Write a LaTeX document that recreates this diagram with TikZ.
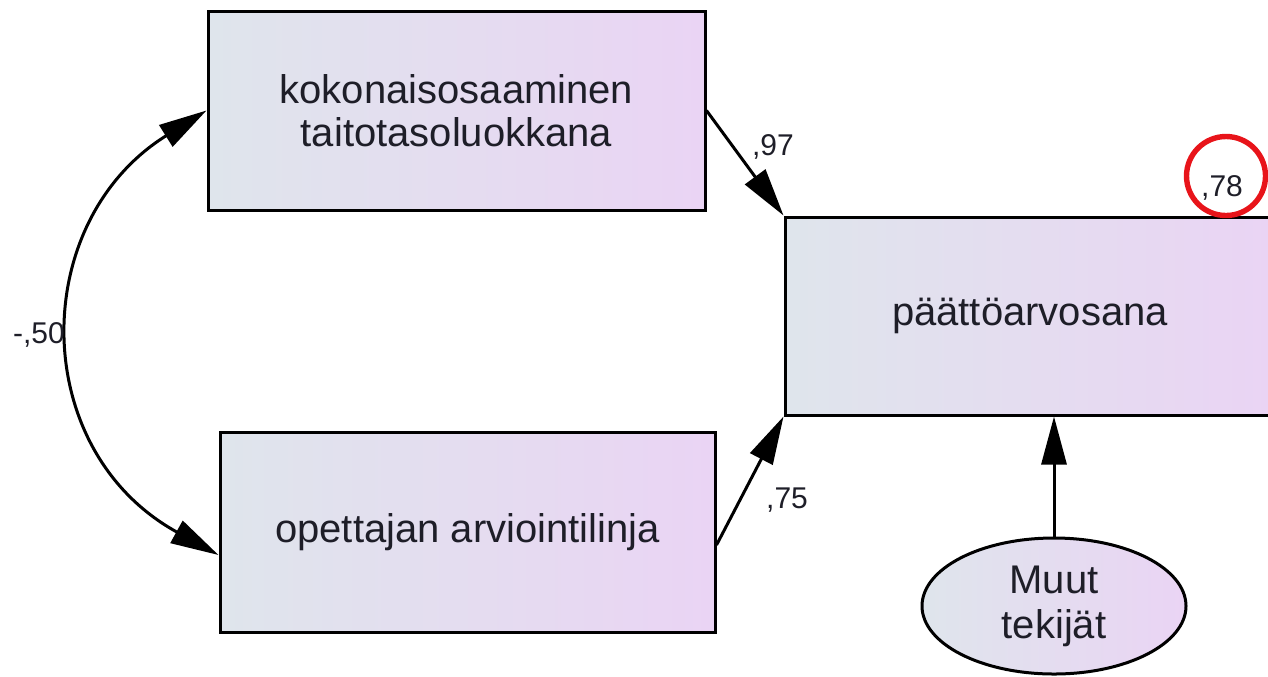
\documentclass[tikz,border=0pt]{standalone}
\usepackage{fontspec}
\setmainfont{Liberation Sans}
\usetikzlibrary{arrows.meta,shapes.geometric}
\definecolor{shL}{HTML}{DFE5EC}
\definecolor{shR}{HTML}{EAD4F4}
\definecolor{circred}{HTML}{E8141A}
\definecolor{txt}{HTML}{1E1E28}
\tikzset{
  varbox/.style={draw=black, line width=1.5pt, left color=shL, right color=shR,
    inner sep=0pt, align=center, text=txt, font=\fontsize{20pt}{21.5pt}\selectfont},
  errell/.style={ellipse, draw=black, line width=1.5pt, left color=shL, right color=shR,
    inner sep=0pt, minimum width=132pt, minimum height=68pt, align=center, text=txt,
    font=\fontsize{20pt}{22.5pt}\selectfont},
  tip/.tip={Triangle[length=24pt,width=12.5pt]},
  conn/.style={line width=1.5pt, -tip},
  dconn/.style={line width=1.5pt, tip-tip},
  coef/.style={font=\fontsize{15pt}{15pt}\selectfont, inner sep=0pt, text=txt},
  mark circle/.style={circle, draw=circred, line width=2.7pt, minimum size=39.5pt, inner sep=0pt}
}
\begin{document}
\begin{tikzpicture}[x=0.5pt,y=-0.5pt]
\useasboundingbox (0,0) rectangle (1268,676);
\clip (0,0) rectangle (1268,676);
\node[varbox, minimum width=248.5pt, minimum height=99.5pt] (b1) at (456.5,110.5)
  {kokonaisosaaminen\\taitotasoluokkana};
\node[varbox, minimum width=247.5pt, minimum height=100pt] (b2) at (467.5,532)
  {opettajan arviointilinja};
\node[varbox, minimum width=245pt, minimum height=99pt] (b3) at (1030,316)
  {päättöarvosana};
\node[errell] (e) at (1054,606) {Muut\\tekijät};

\draw[conn] (b1.east) -- (b3.north west);
\draw[conn] ([yshift=-6.5pt]b2.east) -- (b3.south west);
\draw[conn] (e.north) -- (e.north |- b3.south);
\draw[dconn] (b1.west) .. controls (28,222) and (28,450) .. ([yshift=-11.5pt]b2.west);

\node[coef] (l97) at (773,147) {,97};
\node[coef] (l75) at (787,500) {,75};
\node[coef] (l50) at (39,335) {-,50};
\node[coef] (l78) at (1222,188) {,78};
\node[mark circle] (rc) at (1226,176) {};
\end{tikzpicture}
\end{document}
